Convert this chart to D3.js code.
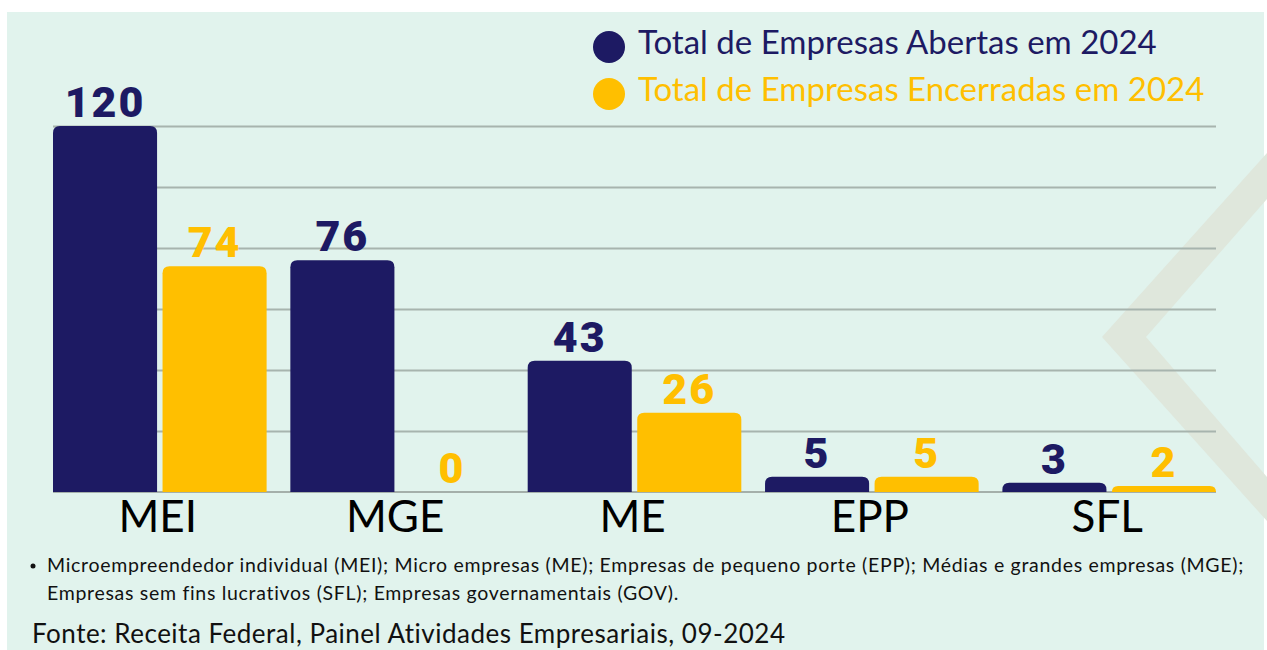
<!DOCTYPE html>
<html>
<head>
<meta charset="utf-8">
<script src="https://cdn.jsdelivr.net/npm/d3@7"></script>
<style>
  body { margin: 0; background: #ffffff; }
  svg { display: block; }
</style>
</head>
<body>
<div class="canvas"></div>
<script>
var w = 1267;
var h = 650;

// dados
var categories = ["MEI", "MGE", "ME", "EPP", "SFL"];
var abertas = [120, 76, 43, 5, 3];
var encerradas = [74, 0, 26, 5, 2];
var seriesKeys = ["abertas", "encerradas"];
var seriesNames = ["Total de Empresas Abertas em 2024", "Total de Empresas Encerradas em 2024"];
var gridTicks = [0, 20, 40, 60, 80, 100, 120];
var footnoteLines = [
    "Microempreendedor individual (MEI); Micro empresas (ME); Empresas de pequeno porte (EPP); Médias e grandes empresas (MGE);",
    "Empresas sem fins lucrativos (SFL); Empresas governamentais (GOV)."
];
var fonte = "Fonte: Receita Federal, Painel Atividades Empresariais, 09-2024";

var colors = { abertas: "#1d1a63", encerradas: "#ffbf00" };
var labelFont = "Lato, 'Open Sans', sans-serif";

var data = categories.map(function (c, i) {
    return { cat: c, abertas: abertas[i], encerradas: encerradas[i] };
});

var svg = d3.select(".canvas").append("svg")
    .attr("width", w)
    .attr("height", h);

// fundo
svg.append("rect")
    .attr("x", 7).attr("y", 12)
    .attr("width", 1257).attr("height", 640)
    .attr("fill", "#e1f3ed");

// chevron decorativo
svg.append("path")
    .attr("d", "M1267,153 L1102,337 L1267,521 L1267,477 L1146,337 L1267,199 Z")
    .attr("fill", "#dfe7dc");

var x0 = d3.scaleBand()
    .domain(categories)
    .range([53, 1216])
    .paddingInner(0.1)
    .paddingOuter(0);

var x1 = d3.scaleBand()
    .domain(seriesKeys)
    .range([0, x0.bandwidth()])
    .paddingInner(0.05);

var yScale = d3.scaleLinear()
    .domain([0, 120])
    .range([492, 126]);

// linhas de grade
var grid = svg.append("g")
    .attr("transform", "translate(53,0)")
    .call(d3.axisLeft(yScale).tickValues(gridTicks.slice(1)).tickSize(-1163).tickFormat(""));
grid.select(".domain").remove();
grid.selectAll(".tick line")
    .attr("stroke", "#a7b4ae")
    .attr("stroke-width", 2);

// linha de base
svg.append("line")
    .attr("x1", 53).attr("x2", 1216)
    .attr("y1", yScale(0)).attr("y2", yScale(0))
    .attr("stroke", "#8f9893")
    .attr("stroke-width", 1.5);

function topRounded(x, y, bw, bh, r) {
    r = Math.min(r, bh, bw / 2);
    if (bh <= 0) return "";
    return "M" + x + "," + (y + bh) +
        "L" + x + "," + (y + r) +
        "Q" + x + "," + y + " " + (x + r) + "," + y +
        "L" + (x + bw - r) + "," + y +
        "Q" + (x + bw) + "," + y + " " + (x + bw) + "," + (y + r) +
        "L" + (x + bw) + "," + (y + bh) + "Z";
}

var groups = svg.selectAll(".grupo")
    .data(data)
    .enter().append("g")
    .attr("class", "grupo")
    .attr("transform", function (d) { return "translate(" + x0(d.cat) + ",0)"; });

var cells = groups.selectAll(".barra")
    .data(function (d) { return seriesKeys.map(function (k) { return { key: k, value: d[k] }; }); })
    .enter();

cells.append("path")
    .attr("class", "barra")
    .attr("d", function (d) {
        var y = yScale(d.value);
        return topRounded(x1(d.key), y, x1.bandwidth(), yScale(0) - y, 7);
    })
    .attr("fill", function (d) { return colors[d.key]; });

cells.append("text")
    .attr("x", function (d) { return x1(d.key) + x1.bandwidth() / 2; })
    .attr("y", function (d) { return yScale(d.value) - 9; })
    .attr("text-anchor", "middle")
    .attr("font-family", "Roboto, sans-serif")
    .attr("font-weight", 900)
    .attr("font-size", 43)
    .attr("letter-spacing", 2)
    .attr("fill", function (d) { return colors[d.key]; })
    .text(function (d) { return d.value; });

// rótulos das categorias
var xAxis = svg.append("g")
    .attr("transform", "translate(0," + yScale(0) + ")")
    .call(d3.axisBottom(x0).tickSize(0).tickPadding(0));
xAxis.select(".domain").remove();
xAxis.selectAll("text")
    .attr("dy", "0")
    .attr("y", 40)
    .attr("font-family", labelFont)
    .attr("font-size", 44)
    .attr("fill", "#000000")
    .attr("transform", "translate(-2,0)");

// legenda
var legend = svg.append("g");
seriesKeys.forEach(function (k, i) {
    var cy = 47 + i * 47;
    legend.append("circle")
        .attr("cx", 609).attr("cy", cy)
        .attr("r", 16)
        .attr("fill", colors[k]);
    legend.append("text")
        .attr("x", 638).attr("y", cy + 7)
        .attr("font-family", labelFont)
        .attr("font-size", 33)
        .attr("fill", colors[k])
        .text(seriesNames[i]);
});

// nota de rodapé
svg.append("circle")
    .attr("cx", 33).attr("cy", 566).attr("r", 2.5)
    .attr("fill", "#111111");
footnoteLines.forEach(function (t, i) {
    svg.append("text")
        .attr("x", 47).attr("y", 572 + i * 28)
        .attr("font-family", labelFont)
        .attr("font-size", 19.5)
        .attr("letter-spacing", 0.7)
        .attr("fill", "#111111")
        .text(t);
});

svg.append("text")
    .attr("x", 32).attr("y", 643)
    .attr("font-family", labelFont)
    .attr("font-size", 26)
    .attr("letter-spacing", 0.5)
    .attr("fill", "#111111")
    .text(fonte);
</script>
</body>
</html>
